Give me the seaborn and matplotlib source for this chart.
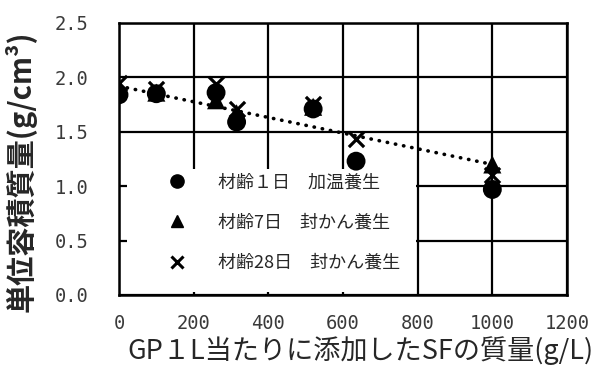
import matplotlib
matplotlib.use("Agg")
import matplotlib.pyplot as plt
import numpy as np
import pandas as pd
import seaborn as sns
from matplotlib.lines import Line2D
from matplotlib.patches import Rectangle

# SF added per 1 L of GP (g/L) and unit volume mass (g/cm3)
sf_mass_1d = [0, 100, 260, 315, 520, 635, 1000]
density_1d = [1.84, 1.85, 1.86, 1.59, 1.71, 1.23, 0.97]
sf_mass_7d = [0, 100, 260, 315, 520, 1000]
density_7d = [1.90, 1.86, 1.79, 1.67, 1.73, 1.20]
sf_mass_28d = [0, 100, 260, 315, 520, 635, 1000]
density_28d = [1.95, 1.89, 1.94, 1.71, 1.76, 1.43, 1.10]

# dotted trend line
trend_x = [0, 1000]
trend_y = [1.92, 1.20]

series_labels = ["材齢１日　加温養生", "材齢7日　封かん養生", "材齢28日　封かん養生"]
x_ticks = [0, 200, 400, 600, 800, 1000, 1200]
y_ticks = [0.0, 0.5, 1.0, 1.5, 2.0, 2.5]

sns.set_theme(style="white")
plt.rcParams["font.family"] = ["Noto Sans CJK JP", "DejaVu Sans"]

fig = plt.figure(figsize=(6.02, 3.65), dpi=100)
ax = fig.add_axes([119 / 602, 1 - 295 / 365, 448 / 602, 272 / 365])

df1 = pd.DataFrame({"x": sf_mass_1d, "y": density_1d})
df7 = pd.DataFrame({"x": sf_mass_7d, "y": density_7d})
df28 = pd.DataFrame({"x": sf_mass_28d, "y": density_28d})
dft = pd.DataFrame({"x": trend_x, "y": trend_y})

sns.lineplot(data=dft, x="x", y="y", ax=ax, color="black", linewidth=2.6,
             linestyle=(0, (0.1, 2.2)), dash_capstyle="round", zorder=2)
sns.scatterplot(data=df1, x="x", y="y", ax=ax, marker="o", s=185, color="black",
                edgecolor="none", zorder=3)
sns.scatterplot(data=df7, x="x", y="y", ax=ax, marker="^", s=170, color="black",
                edgecolor="none", zorder=3)
sns.scatterplot(data=df28, x="x", y="y", ax=ax, marker="x", s=120, color="black",
                linewidth=2.3, zorder=3)

ax.set_xlim(0, 1200)
ax.set_ylim(0, 2.5)
ax.set_xticks(x_ticks)
ax.set_yticks(y_ticks)
ax.set_xticklabels([str(v) for v in x_ticks])
ax.set_yticklabels([f"{v:.1f}" for v in y_ticks])
ax.tick_params(axis="both", length=0, labelsize=13.5, colors="#3a3a3a")
ax.tick_params(axis="x", pad=14)
ax.tick_params(axis="y", pad=22)
for lab in ax.get_xticklabels() + ax.get_yticklabels():
    lab.set_fontfamily("DejaVu Sans Mono")

ax.set_axisbelow(True)
ax.grid(True, color="black", linewidth=1.6)
for sp in ax.spines.values():
    sp.set_color("black")
    sp.set_linewidth(1.8)
    sp.set_zorder(4)

# white panel behind the legend
ax.add_patch(Rectangle((0.018, 0.011), 0.645, 0.452, transform=ax.transAxes,
                       facecolor="white", edgecolor="none", zorder=1))

handles = [
    Line2D([], [], marker="o", linestyle="none", color="black", markersize=9.5),
    Line2D([], [], marker="^", linestyle="none", color="black", markersize=9),
    Line2D([], [], marker="x", linestyle="none", color="black", markersize=8,
           markeredgewidth=2.2),
]
leg = ax.legend(handles, series_labels, loc="upper left",
                bbox_to_anchor=(0.113, 0.448), frameon=False, fontsize=13,
                handlelength=0.8, handletextpad=1.88, labelspacing=1.24,
                borderpad=0, borderaxespad=0)
leg.set_zorder(5)

ax.set_xlabel("GP１L当たりに添加したSFの質量(g/L)", fontsize=19.5)
ax.xaxis.set_label_coords(0.538, -0.15)
ax.set_ylabel("単位容積質量(g/cm³)", fontsize=21, fontweight="bold")
ax.yaxis.set_label_coords(-0.183, 0.456)

fig.savefig("out.png", dpi=100, facecolor="white")
